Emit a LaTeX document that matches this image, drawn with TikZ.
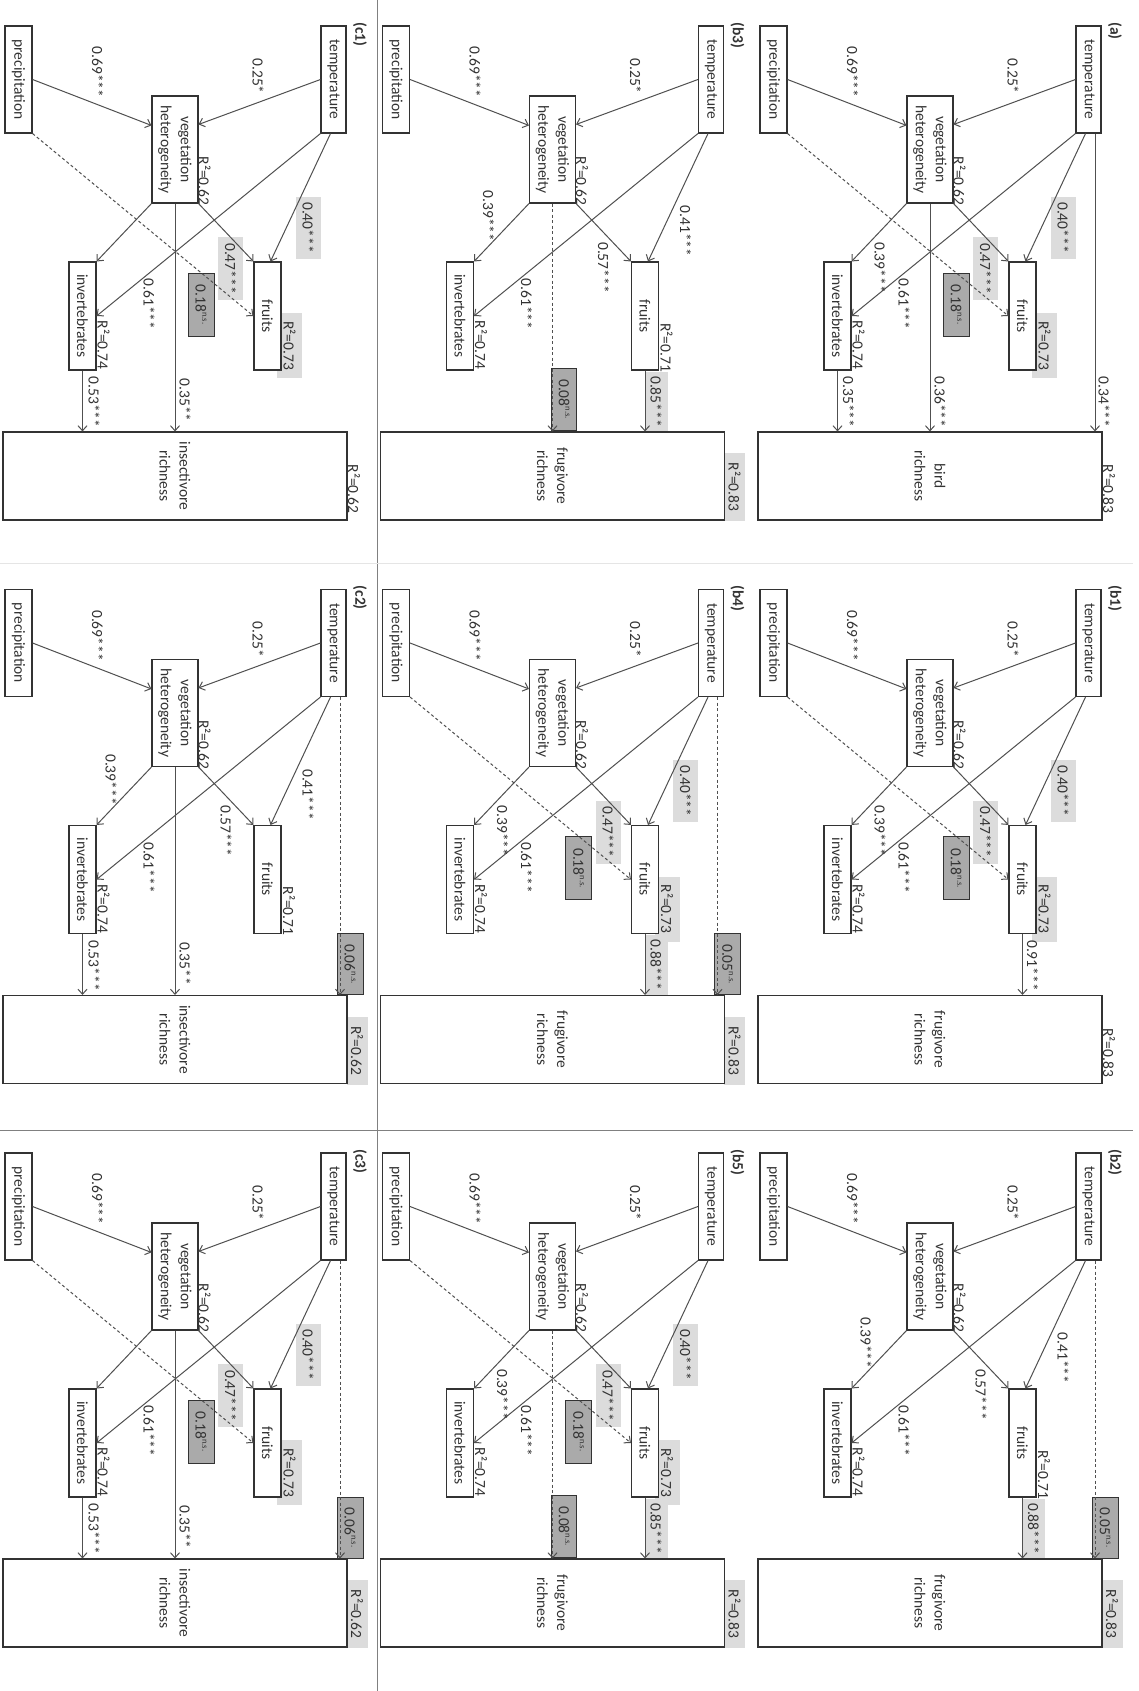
\documentclass[tikz,border=0pt]{standalone}
\usepackage{fontspec}
\setmainfont{Carlito}
\usetikzlibrary{arrows.meta,calc}
\pgfdeclarelayer{bg}
\pgfdeclarelayer{paper}
\pgfsetlayers{paper,bg,main}
\definecolor{ink}{HTML}{333333}
\definecolor{lnc}{HTML}{505050}
\definecolor{hlc}{HTML}{DCDCDC}
\definecolor{nsc}{HTML}{AAAAAA}
\newcommand\fs{\fontsize{15.5}{20}\selectfont}
\newcommand\nsup{\raisebox{0.42em}{\fontsize{8.5}{9}\selectfont n.s.}}
\tikzset{
 box/.style={draw=ink, line width=1.1pt, fill=white, inner sep=0pt, text=ink, align=center, font=\fs},
 lbl/.style={text=ink, inner sep=0pt, font=\fs},
 hl/.style={lbl, fill=hlc, minimum height=25pt, minimum width=62pt},
 nsb/.style={lbl, fill=nsc, draw=ink, line width=1pt, minimum width=62pt, minimum height=26pt},
 arr/.style={draw=lnc, line width=1pt, -{Straight Barb[length=5pt,width=9pt]}},
 dsh/.style={arr, dash pattern=on 3pt off 2.5pt},
 sepline/.style={draw=gray, line width=1pt},
}
% common content of every panel
\newcommand\basepanel[3]{%
 \node[box, minimum width=107pt, minimum height=25pt] (#1t) at (79.5,1088.5) {temperature};
 \node[box, minimum width=107pt, minimum height=27pt] (#1p) at (79.5,773.5) {precipitation};
 \node[box, minimum width=107pt, minimum height=46pt] (#1v) at (149.5,930) {vegetation\\heterogeneity};
 \node[box, minimum width=108pt, minimum height=27pt] (#1f) at (316,1022.5) {fruits};
 \node[box, minimum width=108pt, minimum height=27pt] (#1i) at (316,837.5) {invertebrates};
 \node[box, minimum width=88pt, minimum height=344pt] (#1r) at (476,930) {#3\\richness};
 \node[lbl, font=\fs\bfseries, anchor=west] (#1lab) at (22,1115) {#2};
 \node[lbl] (#1k25) at (76,1013) {0.25*};
 \node[lbl] (#1k69) at (72,852.5) {0.69***};
 \node[lbl] (#1kv) at (181,959.5) {R²=0.62};
 \node[lbl] (#1ki) at (345,858.5) {R²=0.74};
 \node[lbl] (#1k61) at (304,904) {0.61***};
 \draw[arr] (#1t.south) -- ($(#1v.north west)+(29,0)$);
 \draw[arr] (#1p.north) -- ($(#1v.south west)+(30,0)$);
 \draw[arr] ($(#1t.east)+(0,-3)$) -- ($(#1f.west)+(0,3)$);
 \draw[arr] (#1t.south east) -- (#1i.north);
 \draw[arr] (#1v.north east) -- (#1f.south west);
 \draw[arr] (#1v.south east) -- (#1i.north west);
}
% label groups
\newcommand\setA[1]{%
 \begin{pgfonlayer}{bg}
 \node[hl] (#1h40) at (227.5,1063) {0.40***};
 \node[hl, minimum width=63pt] (#1h47) at (268.5,985.5) {0.47***};
 \node[nsb, minimum width=63pt] (#1n18) at (304.5,956) {0.18\nsup};
 \node[hl, minimum width=65pt] (#1h73) at (345.5,1044.5) {R²=0.73};
 \end{pgfonlayer}
 \draw[dsh] (#1p.north east) -- (#1f.south);
}
\newcommand\setB[1]{%
 \node[lbl] (#1k41) at (231,1063) {0.41***};
 \node[lbl] (#1k57) at (267.5,981) {0.57***};
 \node[lbl] (#1k71) at (347.5,1044) {R²=0.71};
 \node[lbl] (#1k39) at (216,866) {0.39***};
}
\newcommand\labStd[1]{\node[lbl] (#1k39) at (267.5,880) {0.39***};}
\newcommand\hlTop[2]{%
 \begin{pgfonlayer}{bg}
 \node[hl, minimum width=68pt, minimum height=21pt] (#1hr) at (487,1112) {#2};
 \end{pgfonlayer}}
\newcommand\plainTop[2]{\node[lbl] (#1kr) at (489,1109) {#2};}
\newcommand\arrTR[2]{\coordinate (#1ts) at ($(#1t.east)+(0,6.5)$);
 \draw[#2] (#1ts) -- (#1ts -| #1r.west);}
\newcommand\arrVR[2]{\draw[#2] (#1v.east) -- (#1v.east -| #1r.west);}
\newcommand\arrIR[1]{\draw[arr] (#1i.east) -- (#1i.east -| #1r.west);}
\newcommand\arrFR[1]{\draw[arr] (#1f.east) -- (#1f.east -| #1r.west);}
\newcommand\nsTR[2]{\begin{pgfonlayer}{bg}\node[nsb, minimum width=61pt] (#1nt) at (400.5,1105) {#2\nsup};\end{pgfonlayer}}
\newcommand\nsVR[2]{\begin{pgfonlayer}{bg}\node[nsb, minimum width=62pt, minimum height=25pt] (#1nv) at (399,941.5) {#2\nsup};\end{pgfonlayer}}
\newcommand\hlFR[2]{\begin{pgfonlayer}{bg}\node[hl, minimum width=60pt, minimum height=23pt] (#1hf) at (401.5,1033.5) {#2};\end{pgfonlayer}}

\begin{document}
\begin{tikzpicture}[x=1pt,y=1pt]
\begin{pgfonlayer}{paper}
\fill[white] (0,0) rectangle (1139,-1691);
\end{pgfonlayer}
\useasboundingbox (0,0) rectangle (1139,-1691);
\draw[sepline] (377,0) -- (377,-1691);
\draw[sepline] (0,-1130) -- (1133,-1130);
\draw[sepline, draw=gray!20] (0,-563) -- (1133,-563);
\begin{scope}[rotate=-90, transform shape]
 % (a)
 \begin{scope}
 \basepanel{a}{(a)}{bird}
 \setA{a}\labStd{a}
 \node[lbl] (ak34) at (402,1104) {0.34***};
 \node[lbl] (ak36) at (402,940) {0.36***};
 \node[lbl] (ak35) at (402,848.5) {0.35***};
 \plainTop{a}{R²=0.83}
 \arrTR{a}{arr}\arrVR{a}{arr}\arrIR{a}
 \end{scope}
 % (b1)
 \begin{scope}[xshift=563.5pt]
 \basepanel{ba}{(b1)}{frugivore}
 \setA{ba}\labStd{ba}
 \node[lbl] (bak91) at (402,1032.5) {0.91***};
 \plainTop{ba}{R²=0.83}
 \arrFR{ba}
 \end{scope}
 % (b2)
 \begin{scope}[xshift=1127pt]
 \basepanel{bb}{(b2)}{frugivore}
 \setB{bb}
 \hlFR{bb}{0.88***}
 \nsTR{bb}{0.05}
 \hlTop{bb}{R²=0.83}
 \arrFR{bb}\arrTR{bb}{dsh}
 \end{scope}
 % (b3)
 \begin{scope}[yshift=-377.5pt]
 \basepanel{bc}{(b3)}{frugivore}
 \setB{bc}
 \hlFR{bc}{0.85***}
 \nsVR{bc}{0.08}
 \hlTop{bc}{R²=0.83}
 \arrFR{bc}\arrVR{bc}{dsh}
 \end{scope}
 % (b4)
 \begin{scope}[xshift=563.5pt, yshift=-377.5pt]
 \basepanel{bd}{(b4)}{frugivore}
 \setA{bd}\labStd{bd}
 \hlFR{bd}{0.88***}
 \nsTR{bd}{0.05}
 \hlTop{bd}{R²=0.83}
 \arrFR{bd}\arrTR{bd}{dsh}
 \end{scope}
 % (b5)
 \begin{scope}[xshift=1127pt, yshift=-377.5pt]
 \basepanel{be}{(b5)}{frugivore}
 \setA{be}\labStd{be}
 \hlFR{be}{0.85***}
 \nsVR{be}{0.08}
 \hlTop{be}{R²=0.83}
 \arrFR{be}\arrVR{be}{dsh}
 \end{scope}
 % (c1)
 \begin{scope}[yshift=-755pt]
 \basepanel{ca}{(c1)}{insectivore}
 \setA{ca}
 \node[lbl] (cak35) at (400,940) {0.35**};
 \node[lbl] (cak53) at (402,849) {0.53***};
 \plainTop{ca}{R²=0.62}
 \arrVR{ca}{arr}\arrIR{ca}
 \end{scope}
 % (c2)
 \begin{scope}[xshift=563.5pt, yshift=-755pt]
 \basepanel{cb}{(c2)}{insectivore}
 \setB{cb}
 \nsTR{cb}{0.06}
 \node[lbl] (cbk35) at (400,940) {0.35**};
 \node[lbl] (cbk53) at (402,849) {0.53***};
 \hlTop{cb}{R²=0.62}
 \arrTR{cb}{dsh}\arrVR{cb}{arr}\arrIR{cb}
 \end{scope}
 % (c3)
 \begin{scope}[xshift=1127pt, yshift=-755pt]
 \basepanel{cc}{(c3)}{insectivore}
 \setA{cc}
 \nsTR{cc}{0.06}
 \node[lbl] (cck35) at (400,940) {0.35**};
 \node[lbl] (cck53) at (402,849) {0.53***};
 \hlTop{cc}{R²=0.62}
 \arrTR{cc}{dsh}\arrVR{cc}{arr}\arrIR{cc}
 \end{scope}
\end{scope}
\end{tikzpicture}
\end{document}
